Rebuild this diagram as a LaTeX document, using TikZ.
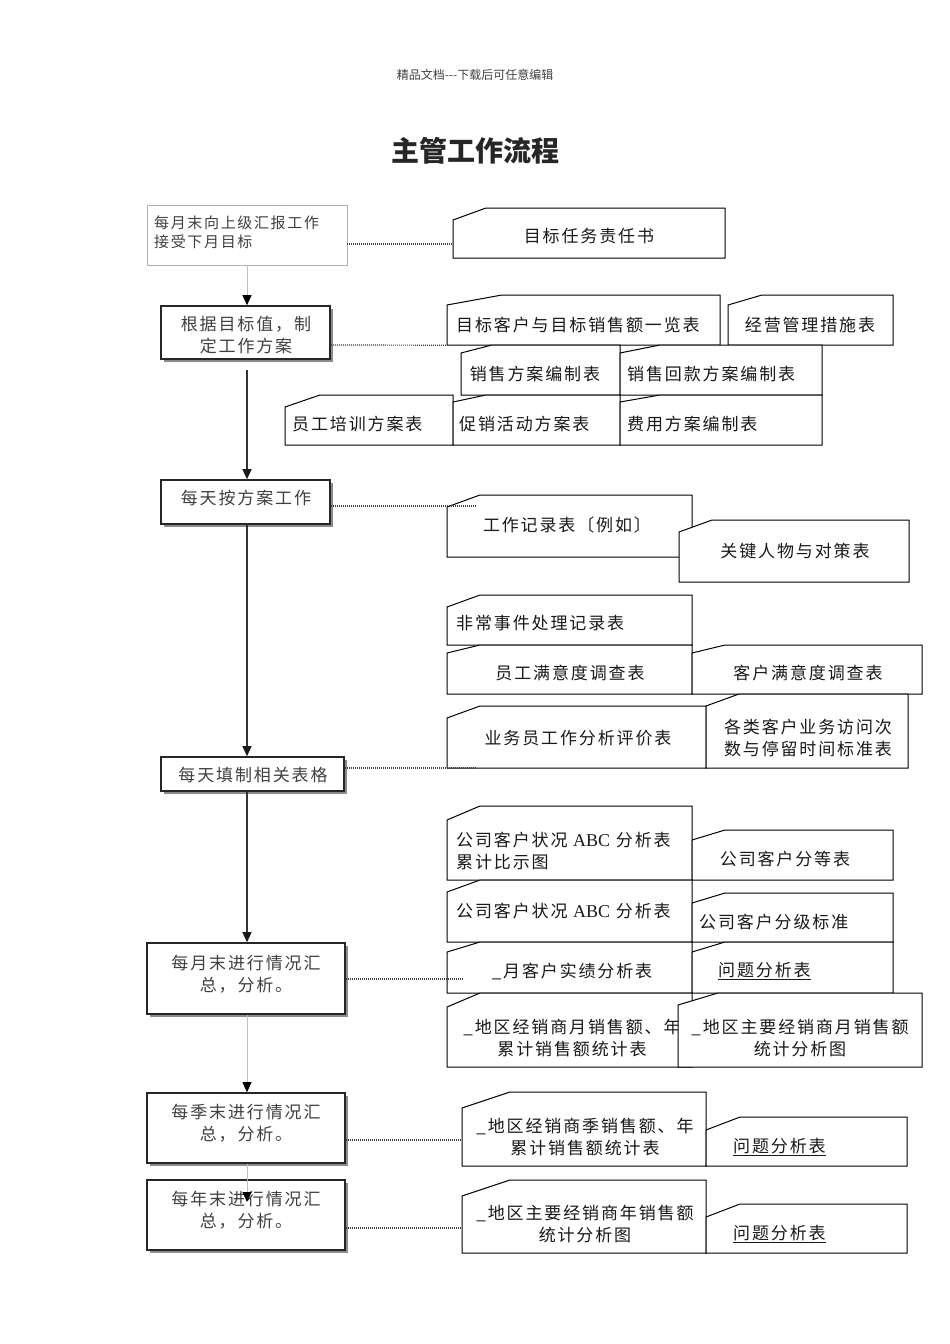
\documentclass[tikz,border=0pt]{standalone}
\usepackage{fontspec}
\newfontfamily\cjk[LetterSpace=11]{Noto Sans CJK SC}
\newfontfamily\cjkp{Noto Sans CJK SC}
\newfontfamily\lat{Liberation Serif}
\usetikzlibrary{arrows.meta,fit,shadows}
\tikzset{
  lbox/.style={draw=black!85, line width=1.6pt, fill=white, inner sep=0pt,
    general shadow={fill=black!45, shadow xshift=3pt, shadow yshift=-3pt}},
  mibs/.style={draw=black, line width=1pt, fill=white, line join=miter},
  lbl/.style={font=\cjk\fontsize{17}{22}\selectfont, text=black!90, align=center, inner sep=0pt},
  llbl/.style={lbl, text=black!75},
  dots/.style={draw=black!75, line width=1.2pt, dash pattern=on 1pt off 1pt},
  darrow/.style={draw=black!80, line width=1.3pt, -{Triangle[width=9pt,length=10pt,color=black!90]}},
  garrow/.style={draw=black!25, line width=0.8pt, -{Triangle[width=9pt,length=10pt,color=black]}}
}
% manual-input box: name, x1, y1, x2, y2, dx, dy
\newcommand\mib[7]{%
  \coordinate (#1-nw) at (#2,#3);
  \coordinate (#1-se) at (#4,#5);
  \node[fit=(#1-nw)(#1-se), inner sep=0pt] (#1) {};
  \draw[mibs] (#2,#5) -- (#2,#3+#7) -- (#2+#6,#3) -- (#4,#3) -- (#4,#5) -- cycle;
}
\newcommand\abc{{\lat\fontsize{18}{22}\selectfont ABC}}
\begin{document}
\begin{tikzpicture}[x=1pt,y=-1pt]
\useasboundingbox (0,0) rectangle (950,1344);
\node[font=\cjkp\fontsize{12}{14}\selectfont, text=black!75] (hdr) at (475,75) {精品文档---下载后可任意编辑};
\node[font=\cjkp\bfseries\fontsize{28}{32}\selectfont, text=black!85] (title) at (475,151) {主管工作流程};

% ---------- right-hand forms ----------
\mib{r1}{453}{208}{725}{258}{33}{12}
\node[lbl] (t1) at (589,236) {目标任务责任书};

\mib{r2}{447}{295}{720}{345}{55}{10}
\node[lbl, anchor=west] (t2) at (456,325) {目标客户与目标销售额一览表};
\mib{r3}{728}{295}{893}{345}{34}{10}
\node[lbl] (t3) at (810,325) {经营管理措施表};
\mib{r4}{461}{345}{620}{395}{31}{8}
\node[lbl] (t4) at (535,374) {销售方案编制表};
\mib{r5}{620}{345}{822}{395}{40}{8}
\node[lbl, anchor=west] (t5) at (627,374) {销售回款方案编制表};
\mib{r6}{285}{395}{453}{445}{35}{12}
\node[lbl, anchor=west] (t6) at (292,424) {员工培训方案表};
\mib{r7}{453}{395}{620}{445}{33}{7}
\node[lbl, anchor=west] (t7) at (459,424) {促销活动方案表};
\mib{r8}{620}{395}{822}{445}{40}{7}
\node[lbl, anchor=west] (t8) at (627,424) {费用方案编制表};

\mib{r9}{447}{495}{692}{557}{33}{12}
\node[lbl] (t9) at (567,525) {工作记录表〔例如〕};
\mib{r10}{679}{520}{909}{582}{33}{12}
\node[lbl] (t10) at (795,551) {关键人物与对策表};
\mib{r11}{447}{595}{692}{645}{33}{12}
\node[lbl, anchor=west] (t11) at (456,623) {非常事件处理记录表};
\mib{r12}{447}{645}{692}{694}{33}{8}
\node[lbl] (t12) at (570,673) {员工满意度调查表};
\mib{r13}{692}{645}{922}{694}{33}{8}
\node[lbl] (t13) at (808,673) {客户满意度调查表};
\mib{r14}{447}{706}{706}{768}{33}{12}
\node[lbl] (t14) at (578,738) {业务员工作分析评价表};
\mib{r15}{706}{694}{908}{768}{33}{12}
\node[lbl] (t15) at (808,738) {各类客户业务访问次\\数与停留时间标准表};

\mib{r16}{447}{806}{692}{880}{33}{14}
\node[lbl, anchor=west, align=left] (t16) at (456,851) {公司客户状况 \abc{} 分析表\\累计比示图};
\mib{r17}{692}{830}{893}{880}{33}{10}
\node[lbl] (t17) at (785,859) {公司客户分等表};
\mib{r18}{447}{880}{692}{942}{33}{12}
\node[lbl, anchor=west] (t18) at (456,911) {公司客户状况 \abc{} 分析表};
\mib{r19}{692}{893}{893}{942}{33}{10}
\node[lbl, anchor=west] (t19) at (699,922) {公司客户分级标准};
\mib{r20}{447}{942}{692}{993}{33}{10}
\node[lbl] (t20) at (572,971) {\_月客户实绩分析表};
\mib{r21}{692}{942}{893}{993}{33}{10}
\node[lbl, anchor=west] (t21) at (718,971) {\underline{问题分析表}};
\mib{r22}{447}{993}{692}{1067}{33}{14}
\node[lbl] (t22) at (572,1038) {\_地区经销商月销售额、年\\累计销售额统计表};
\mib{r23}{678}{993}{922}{1067}{40}{12}
\node[lbl] (t23) at (800,1038) {\_地区主要经销商月销售额\\统计分析图};

\mib{r24}{462}{1092}{706}{1166}{48}{16}
\node[lbl] (t24) at (585,1137) {\_地区经销商季销售额、年\\累计销售额统计表};
\mib{r25}{706}{1117}{907}{1166}{34}{13}
\node[lbl, anchor=west] (t25) at (733,1147) {\underline{问题分析表}};
\mib{r26}{462}{1180}{706}{1253}{48}{16}
\node[lbl] (t26) at (585,1224) {\_地区主要经销商年销售额\\统计分析图};
\mib{r27}{706}{1204}{907}{1253}{34}{13}
\node[lbl, anchor=west] (t27) at (733,1234) {\underline{问题分析表}};

% ---------- left-hand process boxes ----------
\node[draw=black!30, line width=0.8pt, fill=white, inner sep=0pt, minimum width=200pt, minimum height=60pt] (b1) at (247,235) {};
\node[llbl, anchor=west, align=left, font=\cjk\fontsize{15}{19}\selectfont] (tb1) at (154,232) {每月末向上级汇报工作\\接受下月目标};
\node[lbox, minimum width=169pt, minimum height=53pt] (b2) at (245.5,332.5) {};
\node[llbl] (tb2) at (246,335) {根据目标值，制\\定工作方案};
\node[lbox, minimum width=169pt, minimum height=44pt] (b3) at (245.5,502) {};
\node[llbl] (tb3) at (246,498) {每天按方案工作};
\node[lbox, minimum width=183pt, minimum height=34pt] (b4) at (252.5,774) {};
\node[llbl] (tb4) at (253,775) {每天填制相关表格};
\node[lbox, minimum width=198pt, minimum height=71pt] (b5) at (246,978.5) {};
\node[llbl] (tb5) at (246,974) {每月末进行情况汇\\总，分析。};
\node[lbox, minimum width=198pt, minimum height=70pt] (b6) at (246,1128) {};
\node[llbl] (tb6) at (246,1123) {每季末进行情况汇\\总，分析。};
\node[lbox, minimum width=198pt, minimum height=70pt] (b7) at (246,1215) {};
\node[llbl] (tb7) at (246,1210) {每年末进行情况汇\\总，分析。};

% ---------- flow arrows ----------
\coordinate (v) at (247,0);
\coordinate (s2) at (247,370);
\coordinate (e7) at (247,1202);
\draw[garrow] (v |- b1.south) -- (v |- b2.north);
\draw[darrow] (s2) -- (v |- b3.north);
\draw[darrow] (v |- b3.south) -- (v |- b4.north);
\draw[darrow] (v |- b4.south) -- (v |- b5.north);
\draw[garrow] (v |- b5.south) -- (v |- b6.north);
\draw[garrow] (v |- b6.south) -- (e7);

% ---------- dotted links ----------
\coordinate (e3) at (475,506);
\coordinate (e4) at (475,768);
\coordinate (e5) at (462,979);
\draw[dots] (b1.east |- 0,244) -- (r1.west |- 0,244);
\draw[dots] (b2.east |- 0,345) -- (r2.south west);
\draw[dots] (b3.east |- e3) -- (e3);
\draw[dots] (b4.east |- e4) -- (e4);
\draw[dots] (b5.east |- e5) -- (e5);
\draw[dots] (b6.east |- 0,1140) -- (r24.west |- 0,1140);
\draw[dots] (b7.east |- 0,1228) -- (r26.west |- 0,1228);
\end{tikzpicture}
\end{document}
